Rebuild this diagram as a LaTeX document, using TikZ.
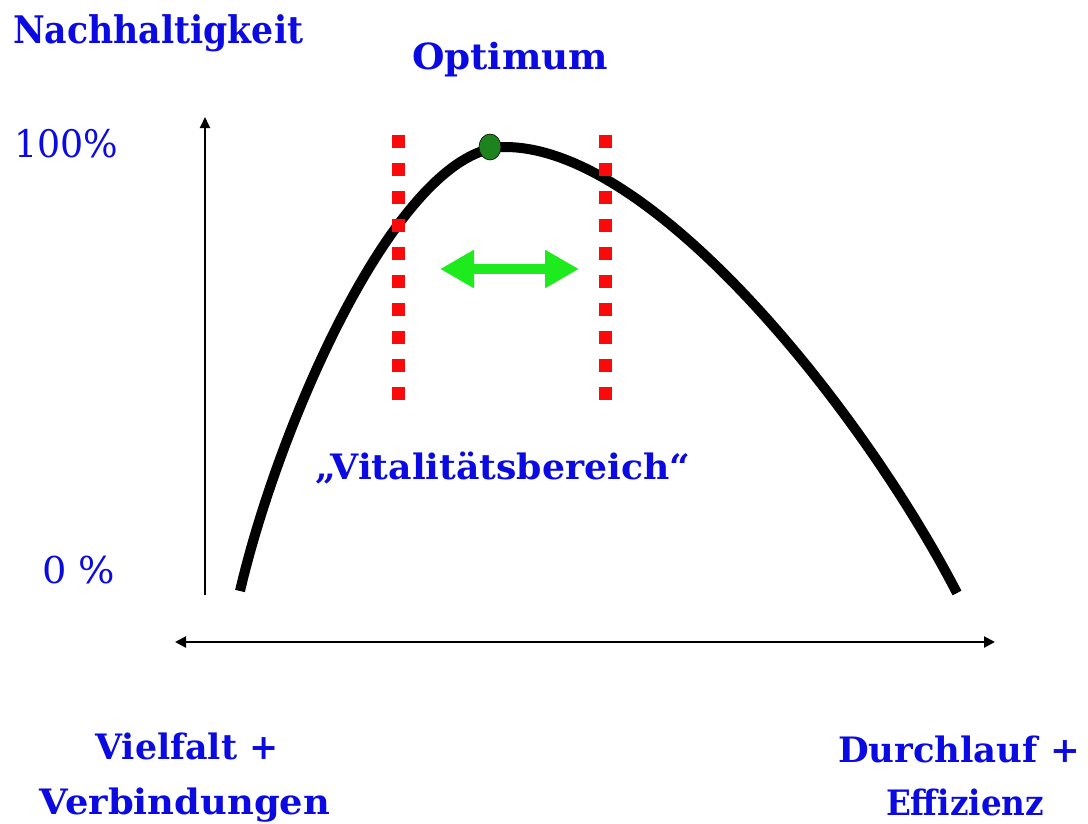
\documentclass[tikz,border=0pt]{standalone}
\usepackage{fontspec}
\setmainfont{DejaVu Serif}
\usetikzlibrary{arrows.meta,shapes.geometric}
\definecolor{lblblue}{RGB}{10,10,225}
\definecolor{dashred}{RGB}{250,10,10}
\definecolor{arrgreen}{RGB}{30,235,30}
\definecolor{dotgreen}{RGB}{30,130,30}
\newcommand{\fitw}[2]{\resizebox{#1}{\height}{#2}}
\tikzset{
  lbl/.style={text=lblblue, inner sep=0pt},
  axis/.style={draw=black, line width=1.8pt, -{Triangle[length=11pt,width=10pt]}},
  dblaxis/.style={draw=black, line width=2.2pt, {Triangle[length=11pt,width=11pt]}-{Triangle[length=11pt,width=11pt]}},
  redline/.style={draw=dashred, line width=13pt, dash pattern=on 13pt off 15pt},
  curve/.style={draw=black, line width=10pt},
  greenarr/.style={draw=arrgreen, line width=10pt, {Triangle[length=34pt,width=36pt]}-{Triangle[length=34pt,width=36pt]}},
  optdot/.style={draw=black, line width=0.6pt, fill=dotgreen, ellipse, minimum width=22pt, minimum height=26pt, inner sep=0pt},
}
\begin{document}
\begin{tikzpicture}[x=1pt,y=-1pt]
\useasboundingbox[fill=white] (0,0) rectangle (1088,823);
% axes
\coordinate (yb) at (205,595);
\coordinate (yt) at (205,117);
\coordinate (xl) at (175,642);
\coordinate (xr) at (995,642);
\draw[axis] (yb) -- (yt);
\draw[dblaxis] (xl) -- (xr);
% curve
\coordinate (cs) at (240,591);
\coordinate (cp) at (505,147);
\coordinate (ce) at (957,593);
\draw[curve] (cs) .. controls (280,420) and (400,147) .. (cp)
                  .. controls (655,147) and (865,415) .. (ce);
% red dashed lines
\coordinate (lt) at (398,135);
\coordinate (lb) at (398,400);
\coordinate (rt) at (605,135);
\coordinate (rb) at (605,400);
\draw[redline] (lt) -- (lb);
\draw[redline] (rt) -- (rb);
% optimum dot
\node[optdot] (dot) at (490,147) {};
% green arrow
\coordinate (gl) at (440,269);
\coordinate (gr) at (579,269);
\draw[greenarr] (gl) -- (gr);
% labels
\node[lbl, anchor=base west, font=\fontsize{38}{40}\selectfont\bfseries] (nach) at (13,43) {\fitw{290pt}{Nachhaltigkeit}};
\node[lbl, anchor=base west, font=\fontsize{36}{40}\selectfont\bfseries] (opt) at (412,69) {\fitw{196pt}{Optimum}};
\node[lbl, anchor=base west, font=\fontsize{38}{40}\selectfont] (hundred) at (14,157) {\fitw{104pt}{100\%}};
\node[lbl, anchor=base west, font=\fontsize{37}{40}\selectfont] (zero) at (42,583) {\fitw{73pt}{0 \%}};
\node[lbl, anchor=base west, font=\fontsize{35}{40}\selectfont\bfseries] (vital) at (315,479) {\fitw{375pt}{„Vitalitätsbereich“}};
\node[lbl, anchor=base, font=\fontsize{35}{40}\selectfont\bfseries] (viel) at (187,759) {\fitw{183pt}{Vielfalt +}};
\node[lbl, anchor=base, font=\fontsize{35}{40}\selectfont\bfseries] (verb) at (185,814) {\fitw{290pt}{Verbindungen}};
\node[lbl, anchor=base, font=\fontsize{35}{40}\selectfont\bfseries] (durch) at (959,762) {\fitw{242pt}{Durchlauf +}};
\node[lbl, anchor=base, font=\fontsize{35}{40}\selectfont\bfseries] (eff) at (965,815) {\fitw{158pt}{Effizienz}};
\end{tikzpicture}
\end{document}
